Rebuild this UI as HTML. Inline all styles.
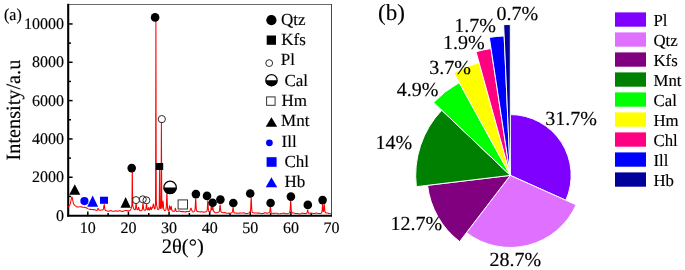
<!DOCTYPE html>
<html><head><meta charset="utf-8"><style>
html,body{margin:0;padding:0;background:#fff;}
body{width:685px;height:270px;overflow:hidden;font-family:"Liberation Serif",serif;}
svg{position:absolute;left:0;top:0;text-rendering:geometricPrecision;will-change:transform;}
text{stroke:#000;stroke-width:0.15px;}
</style></head><body>
<svg width="685" height="270" viewBox="0 0 685 270">
<rect width="685" height="270" fill="#fff"/>
<line x1="67.5" y1="4.5" x2="332" y2="4.5" stroke="#6a6a6a" stroke-width="1.05"/><line x1="331.5" y1="4" x2="331.5" y2="215" stroke="#484848" stroke-width="1.05"/>
<line x1="68.2" y1="3.8" x2="68.2" y2="216.6" stroke="#000" stroke-width="2.1"/>
<line x1="67.2" y1="215.7" x2="332" y2="215.7" stroke="#000" stroke-width="1.9"/>
<line x1="68" y1="196.44" x2="71.00" y2="196.44" stroke="#000" stroke-width="1.5"/>
<line x1="68" y1="177.27" x2="72.60" y2="177.27" stroke="#000" stroke-width="1.5"/>
<line x1="68" y1="158.10" x2="71.00" y2="158.10" stroke="#000" stroke-width="1.5"/>
<line x1="68" y1="138.94" x2="72.60" y2="138.94" stroke="#000" stroke-width="1.5"/>
<line x1="68" y1="119.77" x2="71.00" y2="119.77" stroke="#000" stroke-width="1.5"/>
<line x1="68" y1="100.61" x2="72.60" y2="100.61" stroke="#000" stroke-width="1.5"/>
<line x1="68" y1="81.44" x2="71.00" y2="81.44" stroke="#000" stroke-width="1.5"/>
<line x1="68" y1="62.28" x2="72.60" y2="62.28" stroke="#000" stroke-width="1.5"/>
<line x1="68" y1="43.11" x2="71.00" y2="43.11" stroke="#000" stroke-width="1.5"/>
<line x1="68" y1="23.95" x2="72.60" y2="23.95" stroke="#000" stroke-width="1.5"/>
<line x1="87.81" y1="215" x2="87.81" y2="211.40" stroke="#000" stroke-width="1.5"/>
<line x1="108.12" y1="215" x2="108.12" y2="213.00" stroke="#000" stroke-width="1.5"/>
<line x1="128.43" y1="215" x2="128.43" y2="211.40" stroke="#000" stroke-width="1.5"/>
<line x1="148.74" y1="215" x2="148.74" y2="213.00" stroke="#000" stroke-width="1.5"/>
<line x1="169.05" y1="215" x2="169.05" y2="211.40" stroke="#000" stroke-width="1.5"/>
<line x1="189.36" y1="215" x2="189.36" y2="213.00" stroke="#000" stroke-width="1.5"/>
<line x1="209.67" y1="215" x2="209.67" y2="211.40" stroke="#000" stroke-width="1.5"/>
<line x1="229.98" y1="215" x2="229.98" y2="213.00" stroke="#000" stroke-width="1.5"/>
<line x1="250.29" y1="215" x2="250.29" y2="211.40" stroke="#000" stroke-width="1.5"/>
<line x1="270.60" y1="215" x2="270.60" y2="213.00" stroke="#000" stroke-width="1.5"/>
<line x1="290.91" y1="215" x2="290.91" y2="211.40" stroke="#000" stroke-width="1.5"/>
<line x1="311.22" y1="215" x2="311.22" y2="213.00" stroke="#000" stroke-width="1.5"/>
<path d="M68.00,206.91 L68.60,206.45 L68.65,206.41 L69.20,205.90 L69.80,205.03 L69.82,204.98 L70.40,203.35 L70.60,202.52 L71.00,200.50 L71.25,199.14 L71.60,197.53 L71.90,196.89 L72.20,197.41 L72.55,198.99 L72.80,200.32 L73.20,202.30 L73.40,203.11 L73.98,204.65 L74.00,204.68 L74.60,205.35 L75.15,205.66 L75.20,205.69 L75.80,205.94 L76.40,206.59 L77.00,206.94 L77.60,207.02 L78.20,207.04 L78.80,206.96 L79.40,206.85 L80.00,206.72 L80.60,206.76 L81.20,206.86 L81.80,207.04 L82.40,207.12 L83.00,207.16 L83.60,207.22 L84.20,207.29 L84.80,207.39 L85.40,207.54 L86.00,207.71 L86.60,208.00 L87.20,208.30 L87.80,208.62 L88.40,208.89 L89.00,209.14 L89.60,209.27 L90.20,209.37 L90.80,209.39 L91.40,209.45 L92.00,209.52 L92.60,209.58 L93.20,209.62 L93.80,209.59 L94.40,209.65 L95.00,209.74 L95.60,210.07 L96.20,210.33 L96.60,210.42 L96.80,210.44 L97.14,210.30 L97.40,209.89 L97.50,209.65 L97.80,208.79 L98.00,208.39 L98.10,208.32 L98.40,208.72 L98.60,209.27 L98.70,209.53 L99.06,210.11 L99.20,210.19 L99.60,210.23 L99.80,210.21 L100.40,210.15 L101.00,210.07 L101.60,210.02 L102.20,209.98 L102.80,209.90 L102.83,209.89 L103.32,209.39 L103.40,209.15 L103.65,207.83 L103.92,205.75 L104.00,205.22 L104.20,204.60 L104.48,205.87 L104.60,206.86 L104.75,208.09 L105.08,209.82 L105.20,210.11 L105.58,210.51 L105.80,210.61 L106.40,210.79 L107.00,210.91 L107.60,211.09 L108.20,211.19 L108.80,211.13 L109.40,210.92 L110.00,210.62 L110.60,210.69 L111.20,210.82 L111.80,211.08 L112.40,211.21 L113.00,211.29 L113.60,211.30 L114.20,211.24 L114.80,211.04 L115.40,210.89 L116.00,210.75 L116.60,210.96 L117.20,211.12 L117.80,211.20 L118.40,211.08 L119.00,210.87 L119.60,210.74 L120.20,210.73 L120.80,210.93 L121.40,211.18 L122.00,211.46 L122.60,211.38 L123.20,211.23 L123.80,210.94 L124.40,210.77 L125.00,210.66 L125.60,210.59 L126.20,210.56 L126.80,210.63 L127.40,210.73 L128.00,210.85 L128.60,210.76 L129.15,210.65 L129.20,210.64 L129.80,210.46 L130.32,210.08 L130.40,209.99 L131.00,208.89 L131.10,208.62 L131.25,208.17 L131.60,206.89 L131.63,206.77 L131.75,206.22 L131.88,204.82 L132.09,190.49 L132.20,175.33 L132.30,168.46 L132.40,175.24 L132.51,190.30 L132.72,204.49 L132.80,205.50 L132.97,206.33 L133.05,206.63 L133.35,207.67 L133.40,207.83 L133.70,208.64 L134.00,209.23 L134.48,209.72 L134.60,209.76 L134.97,209.75 L135.20,209.55 L135.38,209.09 L135.65,207.28 L135.80,205.68 L135.88,204.83 L136.10,203.62 L136.32,204.82 L136.40,205.66 L136.55,207.24 L136.82,209.04 L137.00,209.49 L137.22,209.70 L137.47,209.77 L137.60,209.77 L137.88,209.57 L138.15,208.81 L138.20,208.59 L138.38,207.74 L138.60,207.25 L138.80,207.79 L138.82,207.88 L139.05,209.11 L139.32,210.09 L139.40,210.25 L139.72,210.61 L140.00,210.81 L140.60,210.83 L141.20,210.70 L141.80,210.34 L141.88,210.27 L142.28,209.43 L142.40,208.75 L142.55,207.37 L142.78,204.61 L143.00,203.24 L143.22,204.56 L143.45,207.27 L143.60,208.60 L143.72,209.26 L144.12,209.99 L144.20,210.05 L144.80,210.23 L145.38,210.21 L145.40,210.20 L145.78,209.64 L146.00,208.34 L146.05,207.87 L146.28,205.35 L146.50,204.08 L146.60,204.34 L146.72,205.26 L146.95,207.67 L147.20,209.37 L147.22,209.44 L147.60,210.00 L147.62,210.01 L147.80,209.99 L147.96,209.83 L148.20,209.14 L148.40,208.18 L148.60,207.69 L148.80,208.26 L149.00,209.30 L149.24,209.98 L149.28,210.03 L149.60,209.97 L149.68,209.84 L149.95,208.90 L150.18,207.63 L150.20,207.53 L150.40,206.99 L150.62,207.57 L150.80,208.51 L150.85,208.75 L150.88,208.88 L151.12,209.55 L151.28,209.60 L151.40,209.42 L151.53,209.03 L151.55,208.95 L151.65,208.51 L151.78,207.90 L152.00,207.30 L152.22,207.53 L152.28,207.67 L152.45,207.95 L152.60,207.79 L152.70,207.44 L152.72,207.35 L153.05,205.32 L153.12,204.90 L153.20,204.49 L153.40,204.00 L153.75,205.15 L153.80,205.46 L154.10,207.34 L154.40,208.55 L154.52,208.78 L154.85,208.85 L155.00,208.69 L155.15,208.48 L155.23,208.32 L155.48,202.84 L155.60,178.25 L155.69,131.91 L155.90,19.41 L156.11,130.45 L156.20,176.24 L156.25,190.36 L156.32,200.22 L156.57,205.06 L156.60,205.12 L156.80,205.74 L156.95,206.45 L157.30,208.19 L157.40,208.58 L157.72,209.38 L158.00,209.62 L158.35,209.56 L158.55,209.41 L158.60,209.36 L158.93,208.90 L159.18,207.42 L159.20,206.97 L159.39,192.43 L159.60,168.95 L159.80,190.87 L159.81,192.26 L160.02,207.07 L160.27,208.34 L160.35,208.39 L160.40,208.41 L160.65,208.40 L160.73,208.35 L160.98,205.89 L161.00,204.96 L161.19,173.49 L161.40,122.22 L161.60,170.52 L161.61,173.58 L161.75,201.37 L161.82,206.03 L162.07,208.34 L162.20,208.06 L162.45,206.38 L162.50,205.84 L162.75,202.62 L162.80,202.05 L163.00,200.95 L163.25,202.90 L163.40,205.06 L163.50,206.44 L163.80,209.14 L164.00,209.85 L164.25,210.22 L164.60,210.43 L165.20,210.41 L165.80,209.84 L165.85,209.76 L166.23,207.97 L166.40,205.06 L166.48,202.92 L166.69,196.03 L166.90,192.36 L167.00,193.28 L167.11,196.09 L167.32,203.08 L167.57,208.25 L167.60,208.58 L167.95,210.15 L168.20,210.38 L168.47,210.46 L168.80,210.25 L168.88,210.08 L169.15,208.70 L169.38,206.78 L169.40,206.63 L169.60,205.77 L169.82,206.57 L170.00,207.90 L170.05,208.27 L170.07,208.41 L170.32,209.46 L170.48,209.51 L170.60,209.24 L170.72,208.70 L170.75,208.53 L170.97,207.07 L171.20,206.36 L171.42,207.32 L171.65,209.10 L171.80,210.00 L171.92,210.48 L172.32,211.06 L172.40,211.11 L173.00,211.34 L173.60,211.28 L174.20,211.20 L174.28,211.19 L174.68,210.94 L174.80,210.66 L174.95,210.07 L175.18,208.83 L175.40,208.23 L175.62,208.90 L175.85,210.22 L176.00,210.88 L176.12,211.17 L176.53,211.45 L176.60,211.46 L177.20,211.43 L177.80,211.30 L178.40,211.15 L179.00,210.99 L179.60,211.11 L180.20,211.28 L180.80,211.53 L181.40,211.63 L182.00,211.64 L182.60,211.62 L183.20,211.62 L183.80,211.68 L184.40,211.77 L185.00,211.89 L185.60,211.87 L186.20,211.80 L186.80,211.61 L187.40,211.56 L188.00,211.56 L188.60,211.61 L188.75,211.62 L189.20,211.53 L189.56,211.24 L189.80,210.89 L190.10,210.22 L190.40,209.34 L190.55,208.89 L191.00,208.15 L191.45,209.07 L191.60,209.58 L191.90,210.57 L192.20,211.29 L192.44,211.64 L192.80,211.91 L193.25,211.95 L193.40,211.90 L194.00,211.64 L194.60,211.15 L194.65,211.09 L195.03,209.69 L195.20,207.62 L195.28,206.12 L195.49,201.34 L195.70,198.82 L195.80,199.46 L195.91,201.39 L196.12,206.18 L196.37,209.71 L196.40,209.93 L196.75,210.98 L197.00,211.18 L197.60,211.38 L198.20,211.49 L198.80,211.71 L199.40,211.85 L200.00,211.95 L200.60,211.88 L201.20,211.83 L201.80,211.85 L202.40,211.95 L203.00,212.10 L203.60,212.12 L204.20,212.08 L204.80,211.94 L205.40,211.89 L206.00,211.81 L206.60,211.70 L206.75,211.59 L207.13,210.45 L207.20,209.84 L207.38,207.27 L207.59,203.06 L207.80,200.85 L208.01,203.10 L208.22,207.28 L208.40,209.83 L208.47,210.42 L208.85,211.59 L209.00,211.72 L209.60,211.93 L210.20,211.77 L210.30,211.70 L210.66,211.06 L210.80,210.35 L210.90,209.57 L211.10,207.61 L211.30,206.50 L211.40,206.69 L211.50,207.33 L211.65,208.61 L211.70,209.00 L211.94,210.00 L212.00,209.99 L212.03,209.95 L212.28,208.60 L212.30,208.42 L212.49,206.55 L212.60,205.74 L212.70,205.48 L212.91,206.62 L213.12,208.82 L213.20,209.54 L213.37,210.56 L213.75,211.38 L213.80,211.43 L214.40,212.01 L215.00,212.48 L215.60,212.72 L216.20,212.81 L216.80,212.69 L217.40,212.49 L218.00,212.21 L218.60,212.07 L218.97,211.87 L219.20,211.62 L219.38,211.10 L219.65,209.03 L219.80,207.20 L219.88,206.24 L220.10,204.85 L220.32,206.26 L220.40,207.24 L220.55,209.11 L220.82,211.24 L221.00,211.80 L221.22,212.10 L221.60,212.36 L222.20,212.58 L222.80,212.69 L223.40,212.66 L224.00,212.56 L224.60,212.63 L225.20,212.76 L225.80,212.99 L226.40,213.13 L227.00,213.21 L227.60,213.18 L228.20,213.15 L228.80,213.12 L229.40,213.15 L230.00,213.19 L230.60,213.10 L231.20,212.95 L231.80,212.64 L231.97,212.52 L232.38,211.95 L232.40,211.89 L232.65,210.47 L232.88,208.48 L233.00,207.71 L233.10,207.51 L233.32,208.58 L233.55,210.67 L233.60,211.06 L233.82,212.25 L234.20,212.87 L234.22,212.88 L234.80,213.06 L235.40,213.07 L236.00,213.02 L236.60,213.13 L237.20,213.23 L237.80,213.30 L238.40,213.27 L239.00,213.18 L239.60,213.11 L240.20,213.04 L240.80,213.00 L241.40,213.02 L242.00,213.06 L242.60,213.01 L243.20,212.95 L243.80,212.85 L244.40,212.95 L245.00,213.15 L245.60,213.39 L246.20,213.54 L246.80,213.53 L247.40,213.39 L248.00,213.19 L248.60,213.02 L249.20,212.82 L249.80,212.56 L250.15,212.22 L250.40,211.56 L250.53,210.67 L250.78,206.50 L250.99,200.88 L251.00,200.63 L251.20,197.90 L251.41,200.88 L251.60,205.99 L251.62,206.49 L251.87,210.66 L252.20,212.12 L252.25,212.19 L252.80,212.67 L253.40,212.85 L254.00,212.89 L254.60,212.93 L255.20,212.95 L255.80,212.94 L256.40,213.00 L257.00,213.08 L257.60,213.12 L258.20,213.13 L258.80,213.12 L259.40,213.18 L260.00,213.30 L260.60,213.34 L261.20,213.40 L261.80,213.47 L262.40,213.51 L263.00,213.53 L263.60,213.26 L264.20,213.03 L264.80,212.84 L265.40,212.88 L266.00,213.02 L266.60,213.13 L267.20,213.14 L267.80,212.97 L268.40,212.88 L269.00,212.75 L269.27,212.72 L269.60,212.42 L269.68,212.21 L269.95,210.61 L270.17,208.44 L270.20,208.17 L270.40,207.21 L270.62,208.35 L270.80,210.17 L270.85,210.64 L271.12,212.35 L271.40,212.91 L271.52,213.00 L272.00,213.19 L272.60,213.35 L273.20,213.42 L273.80,213.39 L274.40,213.35 L275.00,213.29 L275.60,213.23 L276.20,213.22 L276.80,213.31 L277.40,213.49 L278.00,213.73 L278.60,213.85 L279.20,213.90 L279.80,213.81 L280.40,213.67 L281.00,213.50 L281.60,213.42 L282.20,213.34 L282.80,213.23 L283.40,213.16 L284.00,213.10 L284.60,213.28 L285.20,213.47 L285.80,213.68 L286.40,213.77 L287.00,213.79 L287.60,213.73 L288.20,213.62 L288.80,213.38 L289.40,212.84 L289.65,212.47 L290.00,211.22 L290.03,211.00 L290.28,207.60 L290.49,203.12 L290.60,201.33 L290.70,200.72 L290.91,203.03 L291.12,207.46 L291.20,208.87 L291.37,210.84 L291.75,212.19 L291.80,212.26 L292.40,212.74 L293.00,212.93 L293.60,213.02 L294.20,213.12 L294.80,213.28 L295.40,213.42 L296.00,213.54 L296.60,213.51 L297.20,213.49 L297.80,213.51 L298.40,213.67 L299.00,213.89 L299.60,213.95 L300.20,213.91 L300.80,213.64 L301.40,213.36 L302.00,213.08 L302.60,213.16 L303.20,213.27 L303.80,213.43 L304.40,213.45 L305.00,213.40 L305.60,213.43 L306.20,213.41 L306.57,213.32 L306.80,213.20 L306.98,212.95 L307.25,211.96 L307.40,211.10 L307.47,210.70 L307.70,209.99 L307.93,210.67 L308.00,211.06 L308.15,211.91 L308.42,212.88 L308.60,213.13 L308.82,213.26 L309.20,213.30 L309.80,213.19 L310.40,213.13 L311.00,213.11 L311.60,213.20 L312.20,213.27 L312.80,213.33 L313.40,213.43 L314.00,213.56 L314.60,213.46 L315.20,213.33 L315.80,213.14 L316.40,213.11 L317.00,213.16 L317.60,213.34 L318.20,213.47 L318.80,213.52 L319.40,213.53 L320.00,213.49 L320.60,213.42 L321.20,213.22 L321.55,212.96 L321.80,212.52 L321.93,211.98 L322.18,209.52 L322.39,206.29 L322.40,206.14 L322.60,204.54 L322.81,206.15 L323.00,208.97 L323.02,209.23 L323.25,211.28 L323.27,211.37 L323.60,211.44 L323.63,211.32 L323.65,211.22 L323.88,209.17 L324.09,206.20 L324.20,205.02 L324.30,204.63 L324.51,206.24 L324.72,209.25 L324.80,210.20 L324.97,211.52 L325.35,212.48 L325.40,212.53 L326.00,212.89 L326.60,212.99 L327.20,213.02 L327.80,213.05 L328.40,213.23 L329.00,213.47 L329.60,213.57 L330.20,213.60 L330.80,213.46" fill="none" stroke="#ff0000" stroke-width="1.05" stroke-linejoin="round"/>
<text x="64" y="220.70" font-family="'Liberation Serif', serif" font-size="16" text-anchor="end">0</text>
<text x="64" y="182.37" font-family="'Liberation Serif', serif" font-size="16" text-anchor="end">2000</text>
<text x="64" y="144.04" font-family="'Liberation Serif', serif" font-size="16" text-anchor="end">4000</text>
<text x="64" y="105.71" font-family="'Liberation Serif', serif" font-size="16" text-anchor="end">6000</text>
<text x="64" y="67.38" font-family="'Liberation Serif', serif" font-size="16" text-anchor="end">8000</text>
<text x="64" y="29.05" font-family="'Liberation Serif', serif" font-size="16" text-anchor="end">10000</text>
<text x="87.81" y="232.9" font-family="'Liberation Serif', serif" font-size="16" text-anchor="middle">10</text>
<text x="128.43" y="232.9" font-family="'Liberation Serif', serif" font-size="16" text-anchor="middle">20</text>
<text x="169.05" y="232.9" font-family="'Liberation Serif', serif" font-size="16" text-anchor="middle">30</text>
<text x="209.67" y="232.9" font-family="'Liberation Serif', serif" font-size="16" text-anchor="middle">40</text>
<text x="250.29" y="232.9" font-family="'Liberation Serif', serif" font-size="16" text-anchor="middle">50</text>
<text x="290.91" y="232.9" font-family="'Liberation Serif', serif" font-size="16" text-anchor="middle">60</text>
<text x="331.53" y="232.9" font-family="'Liberation Serif', serif" font-size="16" text-anchor="middle">70</text>
<text x="161.8" y="252.9" font-family="'Liberation Serif', serif" font-size="20.5">2θ(°)</text>
<text transform="translate(19.6,160.5) rotate(-90)" font-family="'Liberation Serif', serif" font-size="20.3">Intensity/a.u</text>
<text transform="translate(4,19.7) scale(0.94,1)" font-family="'Liberation Serif', serif" font-size="17">(a)</text>
<polygon points="69.2,194.7 74.75,184.2 80.3,194.7" fill="#000"/>
<polygon points="120.5,207.7 125.65,196.9 130.8,207.7" fill="#000"/>
<circle cx="84.4" cy="201.1" r="4.1" fill="#0000ff"/>
<polygon points="87.2,206.7 92.65,195.6 98.1,206.7" fill="#0000ff"/>
<rect x="100" y="196.7" width="8" height="7.100000000000023" fill="#0000ff"/>
<circle cx="131.7" cy="168.1" r="4.3" fill="#000"/>
<circle cx="155.1" cy="17.4" r="4.3" fill="#000"/>
<circle cx="195.9" cy="194.1" r="4.3" fill="#000"/>
<circle cx="207" cy="195.9" r="4.3" fill="#000"/>
<circle cx="212.6" cy="202.8" r="4.3" fill="#000"/>
<circle cx="220.4" cy="199.6" r="4.3" fill="#000"/>
<circle cx="233.3" cy="203" r="4.3" fill="#000"/>
<circle cx="250.2" cy="193.5" r="4.3" fill="#000"/>
<circle cx="270.6" cy="203" r="4.3" fill="#000"/>
<circle cx="290.9" cy="196.6" r="4.3" fill="#000"/>
<circle cx="307.8" cy="204.9" r="4.3" fill="#000"/>
<circle cx="322.6" cy="200.1" r="4.3" fill="#000"/>
<circle cx="136" cy="200.1" r="3.5" fill="none" stroke="#2a2a2a" stroke-width="1"/>
<circle cx="142.8" cy="199.3" r="3.5" fill="none" stroke="#2a2a2a" stroke-width="1"/>
<circle cx="146.4" cy="200.3" r="3.5" fill="none" stroke="#2a2a2a" stroke-width="1"/>
<circle cx="161.8" cy="119.1" r="3.5999999999999996" fill="none" stroke="#2a2a2a" stroke-width="1"/>
<circle cx="170.1" cy="187.4" r="6.2" fill="#fff" stroke="#000" stroke-width="1.2"/>
<path d="M163.39999999999998,187.4 A6.7,6.7 0 0 0 176.8,187.4 Z" fill="#000"/>
<rect x="155.8" y="163" width="7.399999999999977" height="7" fill="#000"/>
<rect x="178.1" y="199.9" width="9.400000000000006" height="9.099999999999994" fill="#fff" stroke="#333" stroke-width="1"/>
<circle cx="271.4" cy="20.2" r="5.1" fill="#000"/>
<rect x="266.7" y="35.5" width="9.300000000000011" height="9.299999999999997" fill="#000"/>
<circle cx="269.2" cy="63.1" r="3.4" fill="none" stroke="#2a2a2a" stroke-width="1"/>
<circle cx="271.5" cy="80.2" r="5.6000000000000005" fill="#fff" stroke="#000" stroke-width="1.2"/>
<path d="M265.40000000000003,80.2 A6.1000000000000005,6.1000000000000005 0 0 0 277.59999999999997,80.2 Z" fill="#000"/>
<rect x="266.6" y="96.9" width="8.5" height="8.399999999999991" fill="#fff" stroke="#333" stroke-width="1"/>
<polygon points="265.7,126.8 271.45,117.2 277.2,126.8" fill="#000"/>
<circle cx="269.4" cy="142.8" r="3.4" fill="#0000ff"/>
<rect x="266.6" y="157.2" width="10.0" height="9.600000000000023" fill="#0000ff"/>
<polygon points="265.7,187.2 271.45,177.2 277.2,187.2" fill="#0000ff"/>
<text x="281.0" y="24.9" font-family="'Liberation Serif', serif" font-size="17">Qtz</text>
<text x="281.2" y="45.0" font-family="'Liberation Serif', serif" font-size="17">Kfs</text>
<text x="280.7" y="65.1" font-family="'Liberation Serif', serif" font-size="17">Pl</text>
<text x="284.4" y="85.7" font-family="'Liberation Serif', serif" font-size="17">Cal</text>
<text x="281.5" y="105.6" font-family="'Liberation Serif', serif" font-size="17">Hm</text>
<text x="281.1" y="126.3" font-family="'Liberation Serif', serif" font-size="17">Mnt</text>
<text x="281.6" y="146.6" font-family="'Liberation Serif', serif" font-size="17">Ill</text>
<text x="284.4" y="166.6" font-family="'Liberation Serif', serif" font-size="17">Chl</text>
<text x="284.4" y="186.9" font-family="'Liberation Serif', serif" font-size="17">Hb</text>
<path d="M510.3,175.4 L510.30,114.55 A60.85,60.85 0 0 1 565.84,200.27 Z" fill="#8000ff" stroke="#fff" stroke-width="1.0" stroke-linejoin="miter"/>
<path d="M510.3,175.4 L576.11,204.86 A72.1,72.1 0 0 1 466.47,232.65 Z" fill="#e070ff" stroke="#fff" stroke-width="1.0" stroke-linejoin="miter"/>
<path d="M510.3,175.4 L459.63,241.58 A83.35,83.35 0 0 1 427.54,185.33 Z" fill="#800080" stroke="#fff" stroke-width="1.0" stroke-linejoin="miter"/>
<path d="M510.3,175.4 L416.37,186.67 A94.6,94.6 0 0 1 441.75,110.21 Z" fill="#008000" stroke="#fff" stroke-width="1.0" stroke-linejoin="miter"/>
<path d="M510.3,175.4 L433.60,102.46 A105.85,105.85 0 0 1 459.31,82.64 Z" fill="#00ff00" stroke="#fff" stroke-width="1.0" stroke-linejoin="miter"/>
<path d="M510.3,175.4 L453.89,72.78 A117.1,117.1 0 0 1 479.05,62.55 Z" fill="#ffff00" stroke="#fff" stroke-width="1.0" stroke-linejoin="miter"/>
<path d="M510.3,175.4 L476.04,51.71 A128.35,128.35 0 0 1 491.02,48.51 Z" fill="#ff0080" stroke="#fff" stroke-width="1.0" stroke-linejoin="miter"/>
<path d="M510.3,175.4 L489.33,37.38 A139.6,139.6 0 0 1 504.16,35.94 Z" fill="#0000ff" stroke="#fff" stroke-width="1.0" stroke-linejoin="miter"/>
<path d="M510.3,175.4 L503.67,24.70 A150.85,150.85 0 0 1 510.30,24.55 Z" fill="#00009a" stroke="#fff" stroke-width="1.0" stroke-linejoin="miter"/>
<text x="545.3" y="125.1" font-family="'Liberation Serif', serif" font-size="20">31.7%</text>
<text x="489.4" y="266.0" font-family="'Liberation Serif', serif" font-size="20">28.7%</text>
<text x="390.4" y="229.8" font-family="'Liberation Serif', serif" font-size="20">12.7%</text>
<text x="375.6" y="149.3" font-family="'Liberation Serif', serif" font-size="20">14%</text>
<text x="396.8" y="96.4" font-family="'Liberation Serif', serif" font-size="20">4.9%</text>
<text x="429.3" y="74.2" font-family="'Liberation Serif', serif" font-size="20">3.7%</text>
<text x="443.1" y="48.9" font-family="'Liberation Serif', serif" font-size="20">1.9%</text>
<text x="454.3" y="31.6" font-family="'Liberation Serif', serif" font-size="20">1.7%</text>
<text x="496.4" y="20.3" font-family="'Liberation Serif', serif" font-size="20">0.7%</text>
<text x="378.0" y="19.7" font-family="'Liberation Serif', serif" font-size="23">(b)</text>
<rect x="615" y="12.4" width="31" height="14.3" fill="#8000ff"/>
<text x="653.5" y="25.6" font-family="'Liberation Serif', serif" font-size="16.8">Pl</text>
<rect x="615" y="32.4" width="31" height="14.3" fill="#e070ff"/>
<text x="653.5" y="45.6" font-family="'Liberation Serif', serif" font-size="16.8">Qtz</text>
<rect x="615" y="52.4" width="31" height="14.3" fill="#800080"/>
<text x="653.5" y="65.6" font-family="'Liberation Serif', serif" font-size="16.8">Kfs</text>
<rect x="615" y="72.4" width="31" height="14.3" fill="#008000"/>
<text x="653.5" y="85.6" font-family="'Liberation Serif', serif" font-size="16.8">Mnt</text>
<rect x="615" y="92.4" width="31" height="14.3" fill="#00ff00"/>
<text x="653.5" y="105.6" font-family="'Liberation Serif', serif" font-size="16.8">Cal</text>
<rect x="615" y="112.4" width="31" height="14.3" fill="#ffff00"/>
<text x="653.5" y="125.6" font-family="'Liberation Serif', serif" font-size="16.8">Hm</text>
<rect x="615" y="132.4" width="31" height="14.3" fill="#ff0080"/>
<text x="653.5" y="145.6" font-family="'Liberation Serif', serif" font-size="16.8">Chl</text>
<rect x="615" y="152.4" width="31" height="14.3" fill="#0000ff"/>
<text x="653.5" y="165.6" font-family="'Liberation Serif', serif" font-size="16.8">Ill</text>
<rect x="615" y="172.4" width="31" height="14.3" fill="#00009a"/>
<text x="653.5" y="185.6" font-family="'Liberation Serif', serif" font-size="16.8">Hb</text>
</svg>
</body></html>
